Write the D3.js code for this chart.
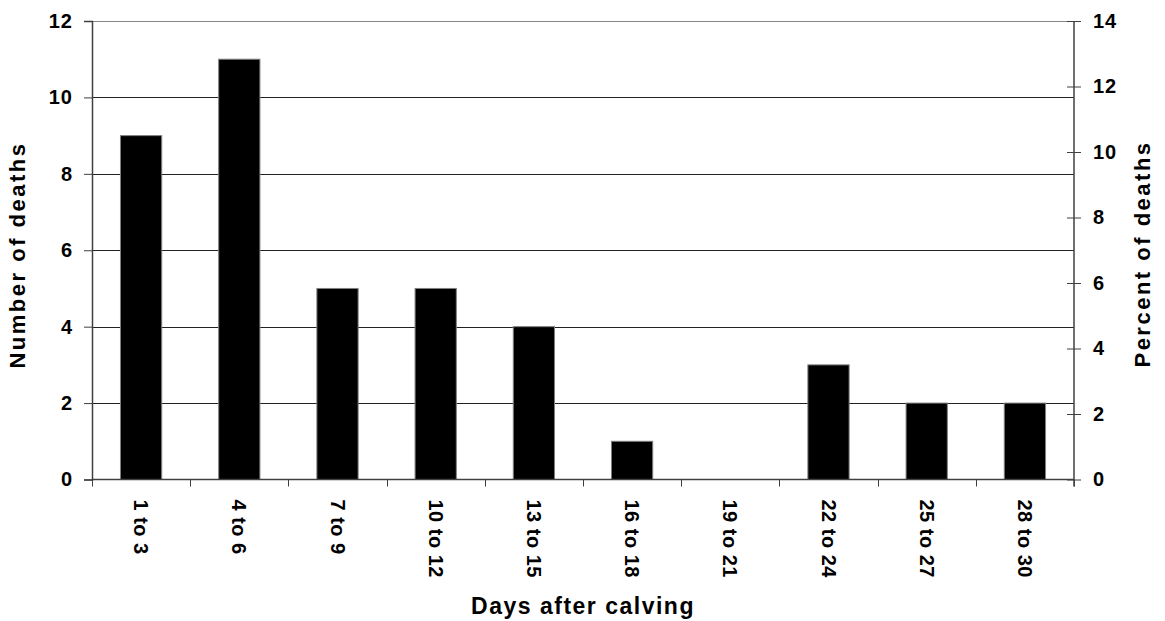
<!DOCTYPE html>
<html>
<head>
<meta charset="utf-8">
<script src="https://cdn.jsdelivr.net/npm/d3@7"></script>
<style>
  html, body { margin: 0; padding: 0; background: #fff; }
  text { font-family: "Liberation Sans", Arial, sans-serif; font-weight: bold; fill: #000; }
</style>
</head>
<body>
<svg id="chart" width="1165" height="621"></svg>
<script>
const categories = ["1 to 3", "4 to 6", "7 to 9", "10 to 12", "13 to 15", "16 to 18", "19 to 21", "22 to 24", "25 to 27", "28 to 30"];
const deaths = [9, 11, 5, 5, 4, 1, 0, 3, 2, 2];
const leftTicks = [0, 2, 4, 6, 8, 10, 12];
const rightTicks = [0, 2, 4, 6, 8, 10, 12, 14];

const W = 1165, H = 621;
const m = { left: 92, right: 91, top: 21, bottom: 141.5 };
const svg = d3.select("#chart");
const x0 = m.left, x1 = W - m.right, y0 = H - m.bottom, y1 = m.top;

const x = d3.scaleBand().domain(categories).range([x0, x1]).paddingInner(0.58).paddingOuter(0.29);
const xb = d3.scaleBand().domain(categories).range([x0, x1]);
const yL = d3.scaleLinear().domain([0, 12]).range([y0, y1]);
const yR = d3.scaleLinear().domain([0, 14]).range([y0, y1]);

// gridlines
svg.append("g").selectAll("line").data(leftTicks.filter(d => d > 0)).join("line")
  .attr("x1", x0).attr("x2", x1)
  .attr("y1", d => Math.round(yL(d)) + 0.5).attr("y2", d => Math.round(yL(d)) + 0.5)
  .attr("stroke", d => d === 12 ? "#888" : "#222").attr("stroke-width", 1);

// bars
svg.append("g").selectAll("rect").data(deaths).join("rect")
  .attr("x", (d, i) => x(categories[i]))
  .attr("width", x.bandwidth())
  .attr("y", d => yL(d))
  .attr("height", d => y0 - yL(d))
  .attr("fill", "#000")
  .attr("stroke", "#808080").attr("stroke-width", 1);

const axisColor = "#404040";
const tickFont = g => g.style("font-size", "20px").style("letter-spacing", "1px")
  .style("font-family", '"Liberation Sans", Arial, sans-serif').style("font-weight", "bold").attr("fill", "#000");

// left axis
const gL = svg.append("g").attr("transform", `translate(${x0},0)`)
  .call(d3.axisLeft(yL).tickValues(leftTicks).tickSize(8).tickPadding(11).tickFormat(d3.format("d")));
gL.select(".domain").attr("stroke", axisColor).attr("stroke-width", 1.5);
gL.selectAll(".tick line").attr("stroke", axisColor);
gL.selectAll(".tick text").call(tickFont);

// right axis (ticks crossing)
const gR = svg.append("g").attr("transform", `translate(${x1},0)`)
  .call(d3.axisRight(yR).tickValues(rightTicks).tickSize(8).tickPadding(11).tickFormat(d3.format("d")));
gR.select(".domain").attr("stroke", axisColor).attr("stroke-width", 1.5)
  .attr("d", `M0,${y1}V${y0 + 7}`);
gR.selectAll(".tick line").attr("x1", -7).attr("x2", 7).attr("stroke", axisColor);
gR.selectAll(".tick text").call(tickFont);

// x axis
const gX = svg.append("g").attr("transform", `translate(0,${y0})`);
gX.append("line").attr("x1", x0).attr("x2", x1).attr("y1", 0).attr("y2", 0)
  .attr("stroke", axisColor).attr("stroke-width", 1.5);
const bounds = categories.map(c => xb(c)).concat([x1]);
gX.selectAll("line.tk").data(bounds).join("line").attr("class", "tk")
  .attr("x1", d => Math.round(d) + 0.5).attr("x2", d => Math.round(d) + 0.5)
  .attr("y1", 0).attr("y2", 7).attr("stroke", axisColor);
gX.selectAll("text").data(categories).join("text")
  .attr("transform", d => `translate(${xb(d) + xb.bandwidth() / 2},20) rotate(90)`)
  .attr("dy", "0.35em")
  .style("font-size", "20px").style("letter-spacing", "0.5px")
  .attr("text-anchor", "start")
  .text(d => d);

// axis titles
svg.append("text").attr("x", (x0 + x1) / 2).attr("y", 614)
  .attr("text-anchor", "middle").style("font-size", "23px").style("letter-spacing", "1.5px")
  .text("Days after calving");
svg.append("text").attr("transform", `translate(25,255) rotate(-90)`)
  .attr("text-anchor", "middle").style("font-size", "22px").style("letter-spacing", "2.5px")
  .text("Number of deaths");
svg.append("text").attr("transform", `translate(1150,254) rotate(-90)`)
  .attr("text-anchor", "middle").style("font-size", "22px").style("letter-spacing", "2.5px")
  .text("Percent of deaths");
</script>
</body>
</html>
